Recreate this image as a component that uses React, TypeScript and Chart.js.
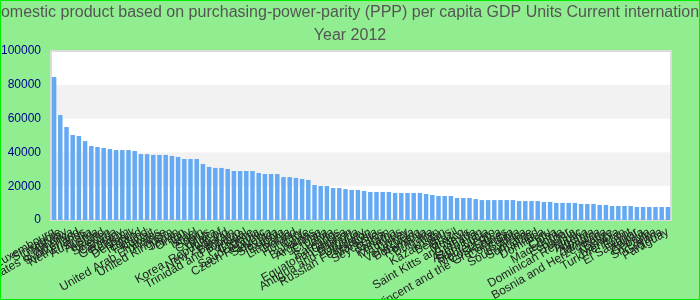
import React, { useEffect, useRef } from "react";
import { Chart, registerables } from "chart.js";

Chart.register(...registerables);

const titleText = "Gross domestic product based on purchasing-power-parity (PPP) per capita GDP Units Current international dollar";
const subtitleText = "Year 2012";

const countries = [
  "Luxembourg", "Singapore", "Norway", "United States of America", "Switzerland",
  "Netherlands", "Australia", "Austria", "Ireland", "Sweden",
  "Canada", "Germany", "Belgium", "Denmark", "Iceland",
  "Finland", "Kuwait", "United Arab Emirates", "France", "United Kingdom",
  "Japan", "Oman", "Italy", "Israel", "Spain",
  "Cyprus", "Malta", "Korea, Republic of", "New Zealand", "Bahrain",
  "Trinidad and Tobago", "Portugal", "Greece", "Saudi Arabia", "Czech Republic",
  "Slovenia", "Slovakia", "Estonia", "Lithuania", "Poland",
  "Hungary", "Chile", "Bahamas", "Argentina", "Croatia",
  "Latvia", "Barbados", "Equatorial Guinea", "Lebanon", "Antigua and Barbuda",
  "Uruguay", "Russian Federation", "Malaysia", "Seychelles", "Gabon",
  "Panama", "Mauritius", "Turkey", "Venezuela", "Botswana",
  "Romania", "Bulgaria", "Iran", "Kazakhstan", "Belarus",
  "Brazil", "Mexico", "Saint Kitts and Nevis", "Grenada", "Azerbaijan",
  "Saint Lucia", "Montenegro", "Costa Rica", "Saint Vincent and the Grenadines", "Colombia",
  "Serbia", "South Africa", "Suriname", "Thailand", "Dominica",
  "Peru", "China", "Macedonia", "Ecuador", "Tunisia",
  "Dominican Republic", "Algeria", "Albania", "Jamaica", "Bosnia and Herzegovina",
  "Belize", "Namibia", "Turkmenistan", "Egypt", "El Salvador",
  "Angola", "Georgia", "Sri Lanka", "Guyana", "Paraguay",
];

const gdpPerCapita = [
  84600, 62100, 55000, 50300, 49700, 46700, 43800, 43200, 42600, 42000,
  41400, 41400, 41400, 40800, 39000, 39000, 38500, 38500, 38500, 37900,
  37300, 36100, 36100, 36100, 33100, 31400, 30800, 30800, 30200, 29000,
  29000, 29000, 29000, 27800, 27200, 27200, 27200, 25400, 25400, 24900,
  24300, 23700, 20700, 20100, 20100, 18900, 18900, 18300, 17800, 17800,
  17200, 16600, 16600, 16600, 16600, 16000, 16000, 16000, 16000, 16000,
  15400, 14800, 14200, 14200, 14200, 13000, 13000, 13000, 12400, 11800,
  11800, 11800, 11800, 11800, 11800, 11200, 11200, 11200, 11200, 10700,
  10700, 10100, 10100, 10100, 10100, 9500, 9500, 9500, 8900, 8900,
  8300, 8300, 8300, 8300, 7700, 7700, 7700, 7700, 7700, 7700,
];

const yMin = 0;
const yMax = 100000;
const yStep = 20000;

const FONT_FAMILY = "'Helvetica Neue', 'Helvetica', 'Arial', sans-serif";

const bandsPlugin = {
  id: "bands",
  beforeDatasetsDraw(chart: any) {
    const { ctx, chartArea, scales } = chart;
    const y = scales.y;
    ctx.save();
    ctx.fillStyle = "#ffffff";
    ctx.fillRect(chartArea.left, chartArea.top, chartArea.right - chartArea.left, chartArea.bottom - chartArea.top);
    ctx.fillStyle = "#f2f2f2";
    for (let v = yMin; v < yMax; v += yStep) {
      const idx = Math.round((v - yMin) / yStep);
      if (idx % 2 === 1) {
        const top = y.getPixelForValue(v + yStep);
        const bot = y.getPixelForValue(v);
        ctx.fillRect(chartArea.left, top, chartArea.right - chartArea.left, bot - top);
      }
    }
    ctx.strokeStyle = "#dcdcdc";
    ctx.lineWidth = 2;
    ctx.strokeRect(chartArea.left, chartArea.top, chartArea.right - chartArea.left, chartArea.bottom - chartArea.top);
    ctx.restore();
  },
};

const titlePlugin = {
  id: "wideTitle",
  afterDraw(chart: any) {
    const { ctx, width } = chart;
    ctx.save();
    ctx.fillStyle = "#555555";
    ctx.textAlign = "center";
    ctx.textBaseline = "middle";
    ctx.font = `16px ${FONT_FAMILY}`;
    ctx.fillText(titleText, width / 2, 12);
    ctx.fillText(subtitleText, width / 2, 35);
    ctx.restore();
  },
};

export default function App() {
  const ref = useRef<HTMLCanvasElement | null>(null);
  useEffect(() => {
    if (!ref.current) return;
    const chart = new Chart(ref.current, {
      type: "bar",
      data: {
        labels: countries,
        datasets: [
          {
            label: "GDP PPP per capita",
            data: gdpPerCapita,
            backgroundColor: "rgb(99,169,243)",
            borderWidth: 0,
          },
        ],
      },
      options: {
        animation: false,
        responsive: false,
        devicePixelRatio: 1,
        layout: { padding: { right: 28, left: 0, top: 50, bottom: 0 } },
        plugins: {
          legend: { display: false },
          tooltip: { enabled: false },
          title: { display: false },
        },
        scales: {
          x: {
            grid: { display: false, drawTicks: false },
            border: { display: false },
            ticks: {
              autoSkip: false,
              color: "#222222",
              font: { size: 12 },
              padding: 5,
              minRotation: 30,
              maxRotation: 30,
            },
            afterFit: (s: any) => {
              s.height = 79;
              s.paddingLeft = 0;
              s.paddingRight = 0;
            },
          },
          y: {
            min: yMin,
            max: yMax,
            grid: { display: false, drawTicks: false },
            border: { display: false },
            ticks: {
              stepSize: yStep,
              color: "#00008b",
              font: { size: 12 },
              padding: 10,
              callback: (v: any) => String(v),
            },
            afterFit: (s: any) => {
              s.width = 50;
            },
          },
        },
      },
      plugins: [bandsPlugin, titlePlugin],
    });
    const xs: any = chart.scales.x;
    if (xs) {
      xs._calculatePadding = function () {
        this.paddingLeft = 0;
        this.paddingRight = 0;
        this.paddingTop = 0;
        this.paddingBottom = 0;
      };
      xs.getPadding = () => ({ left: 0, top: 0, right: 0, bottom: 0 });
      chart.update();
    }
    return () => chart.destroy();
  }, []);
  return (
    <div
      style={{
        position: "absolute",
        left: 0,
        top: 0,
        width: 700,
        height: 300,
        boxSizing: "border-box",
        border: "1px solid #00ee00",
        background: "#90ee90",
      }}
    >
      <canvas ref={ref} width={698} height={298} style={{ display: "block" }} />
    </div>
  );
}
